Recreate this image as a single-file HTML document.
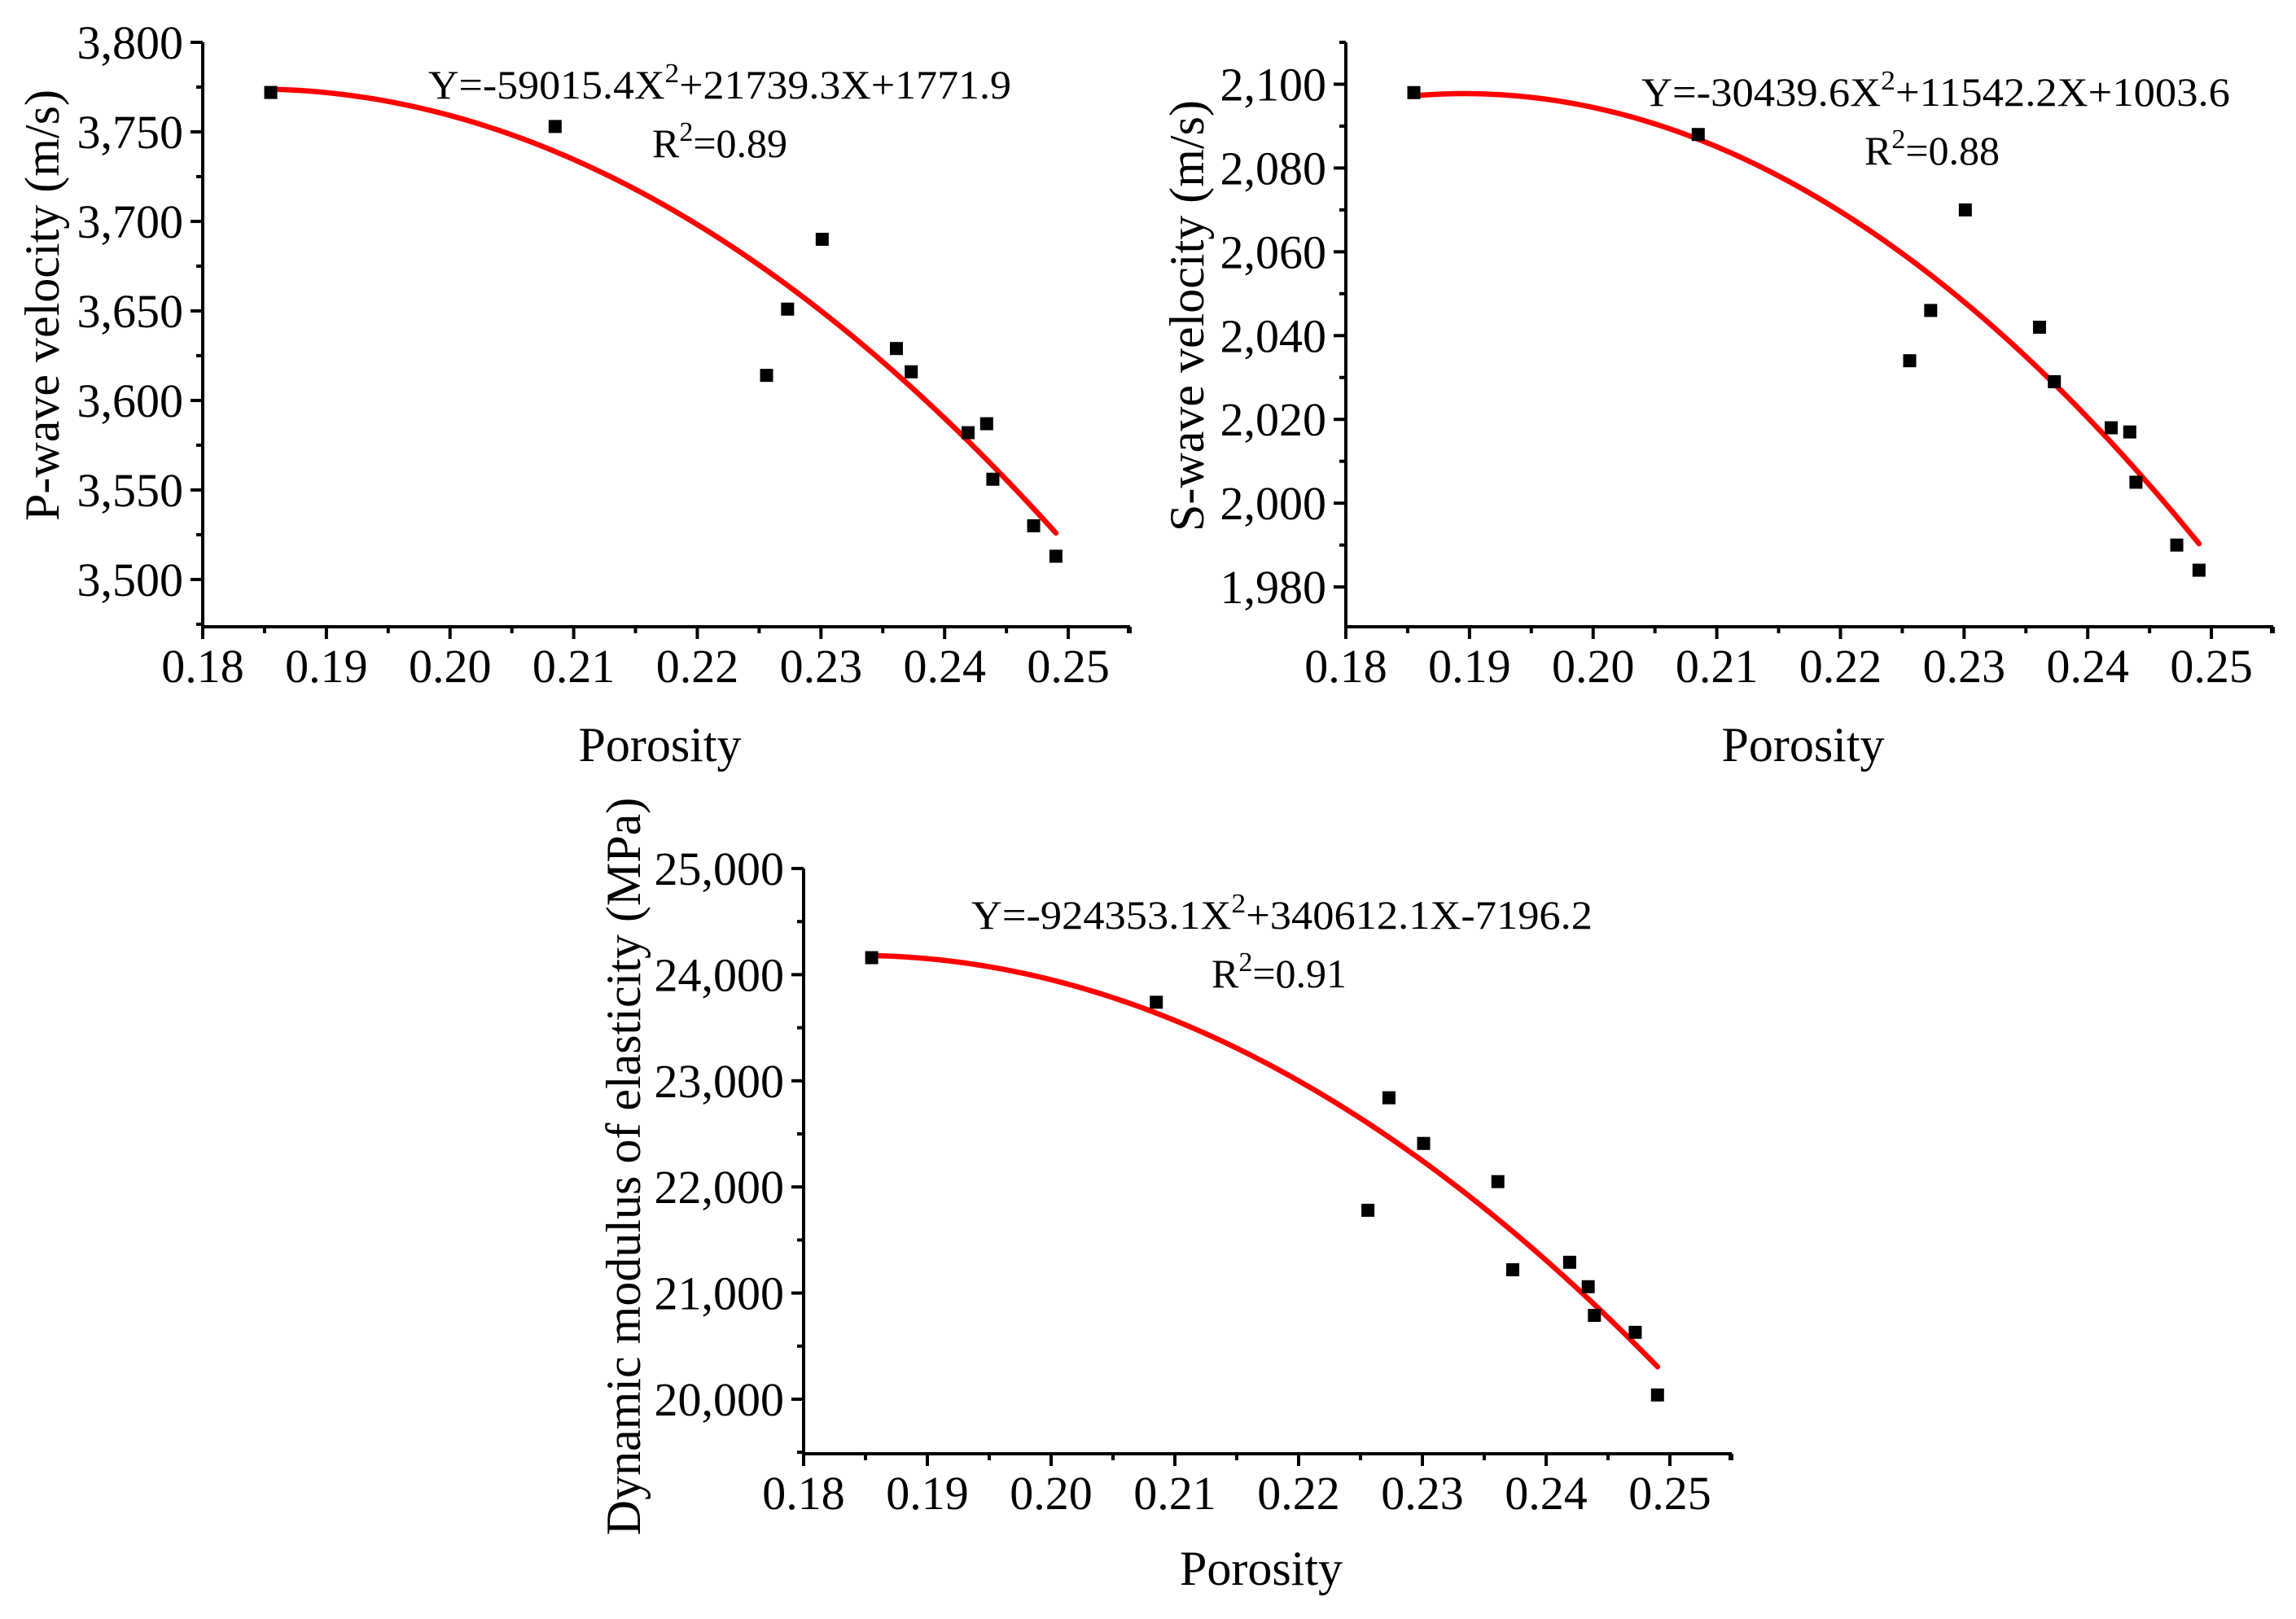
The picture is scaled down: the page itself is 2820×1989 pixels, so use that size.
<!DOCTYPE html>
<html><head><meta charset="utf-8"><style>
html,body{margin:0;padding:0;background:#fff;}
svg{display:block;font-family:"Liberation Serif","Times New Roman",serif;}
svg text{font-family:"Liberation Serif","Times New Roman",serif;}
</style></head><body>
<svg id="fig" width="2820" height="1989" viewBox="0 0 2820 1989" xmlns="http://www.w3.org/2000/svg"></svg>
<script>
const porosity = [0.1855,0.2085,0.2256,0.2273,0.2301,0.2361,0.2373,0.2419,0.2434,0.2439,0.2472,0.2490];
const pWave = [3772,3753,3614,3651,3690,3629,3616,3582,3587,3556,3530,3513];
const sWave = [2098,2088,2034,2046,2070,2042,2029,2018,2017,2005,1990,1984];
const modulus = [24160,23740,21780,22840,22410,22050,21220,21290,21060,20790,20630,20040];
const xTicks = [0.18,0.19,0.20,0.21,0.22,0.23,0.24,0.25];
const xTickLabels = ["0.18","0.19","0.20","0.21","0.22","0.23","0.24","0.25"];
const pTicks = [3500,3550,3600,3650,3700,3750,3800];
const pTickLabels = ["3,500","3,550","3,600","3,650","3,700","3,750","3,800"];
const sTicks = [1980,2000,2020,2040,2060,2080,2100];
const sTickLabels = ["1,980","2,000","2,020","2,040","2,060","2,080","2,100"];
const mTicks = [20000,21000,22000,23000,24000,25000];
const mTickLabels = ["20,000","21,000","22,000","23,000","24,000","25,000"];
const pCoef = [-59015.4,21739.3,1771.9];
const sCoef = [-30439.6,11542.2,1003.6];
const mCoef = [-924353.1,340612.1,-7196.2];

const NS="http://www.w3.org/2000/svg";
const svg=document.getElementById('fig');
const FF='"Liberation Serif","Times New Roman",serif';
function mk(tag,attrs,parent){const e=document.createElementNS(NS,tag);for(const k in attrs)e.setAttribute(k,attrs[k]);if(tag==='text')e.setAttribute('font-family',FF);(parent||svg).appendChild(e);return e;}

function panel(o){
  const g=mk('g',{});
  
  
  const X=v=>o.x0+(v-o.xmin)/(o.xmax-o.xmin)*(o.x1-o.x0);
  const Y=v=>o.y1-(v-o.ymin)/(o.ymax-o.ymin)*(o.y1-o.y0);
  const ya=mk('line',{x1:o.x0,y1:o.y0,x2:o.x0,y2:o.y1+2,stroke:'#000','stroke-width':4},g);
  
  
  const xa=mk('line',{x1:o.x0-2,y1:o.y1,x2:o.x1,y2:o.y1,stroke:'#000','stroke-width':4},g);
  
  
  xTicks.forEach((t,i)=>{
    const x=X(t);
    mk('line',{x1:x,y1:o.y1,x2:x,y2:o.y1+15,stroke:'#000','stroke-width':4},g);
    const tx=mk('text',{x:x,y:o.y1+68,'font-size':58,'text-anchor':'middle'},g);
    tx.textContent=xTickLabels[i];
    
    
    const xm=X(t+0.005);
    if(t+0.005<=o.xmax+1e-9) mk('line',{x1:xm,y1:o.y1,x2:xm,y2:o.y1+8,stroke:'#000','stroke-width':4},g);
  });
  mk('line',{x1:o.x1-2,y1:o.y1,x2:o.x1-2,y2:o.y1+8,stroke:'#000','stroke-width':4},g);
  o.yt.forEach((t,i)=>{
    const y=Y(t);
    mk('line',{x1:o.x0-15,y1:y,x2:o.x0,y2:y,stroke:'#000','stroke-width':4},g);
    const ty=mk('text',{x:o.x0-24,y:y+20,'font-size':58,'text-anchor':'end'},g);
    ty.textContent=o.ytl[i];
    
    
    const step=o.yt[1]-o.yt[0];
    [t-step/2,t+step/2].forEach(m=>{
      if(i>0&&m<t)return;
      if(m>=o.ymin&&m<=o.ymax){const ym=Y(m);mk('line',{x1:o.x0-8,y1:ym,x2:o.x0,y2:ym,stroke:'#000','stroke-width':4},g);}
    });
  });
  const xt=mk('text',{x:(o.x0+o.x1)/2-8,y:o.xty,'font-size':60,'text-anchor':'middle'},g);
  xt.textContent='Porosity';
  
  
  const yt=mk('text',{x:0,y:0,'font-size':60,'text-anchor':'middle',transform:`translate(${o.ytx},${o.yty}) rotate(-90)`},g);
  yt.textContent=o.ytitle;
  
  
  let d='';
  const xs=porosity[0], xe=porosity[porosity.length-1];
  for(let k=0;k<=120;k++){
    const xv=xs+(xe-xs)*k/120;
    const yv=o.c[0]*xv*xv+o.c[1]*xv+o.c[2];
    d+=(k?'L':'M')+X(xv).toFixed(2)+' '+Y(yv).toFixed(2);
  }
  const fit=mk('path',{d:d,fill:'none',stroke:'#ff0000','stroke-width':6.5,'stroke-linecap':'round'},g);
  
  
  porosity.forEach((p,i)=>{
    const r=mk('rect',{x:X(p)-8,y:Y(o.vals[i])-8,width:16,height:16,fill:'#000'},g);
    
    
  });
  const eq=mk('text',{x:o.ex,y:o.ey,'font-size':50,textLength:o.ew,lengthAdjust:'spacingAndGlyphs'},g);
  
  
  eq.innerHTML=o.eq1+'<tspan dy="-20" font-size="34">2</tspan><tspan dy="20">'+o.eq2+'</tspan>';
  const r2=mk('text',{x:o.rx,y:o.ry,'font-size':50},g);
  
  
  r2.innerHTML='R<tspan dy="-20" font-size="34">2</tspan><tspan dy="20">='+o.r2+'</tspan>';
}

panel({name:'p-wave-panel',x0:249,x1:1388,y0:52,y1:770,xmin:0.18,xmax:0.255,ymin:3473.6,ymax:3800,
  yt:pTicks,ytl:pTickLabels,vals:pWave,c:pCoef,ytitle:'P-wave velocity (m/s)',ytx:72,yty:375,xty:935,
  ex:526,ey:121,ew:716,eq1:'Y=-59015.4X',eq2:'+21739.3X+1771.9',rx:801,ry:193,r2:'0.89'});
panel({name:'s-wave-panel',x0:1653,x1:2792,y0:52,y1:770,xmin:0.18,xmax:0.255,ymin:1970.5,ymax:2110,
  yt:sTicks,ytl:sTickLabels,vals:sWave,c:sCoef,ytitle:'S-wave velocity (m/s)',ytx:1478,yty:388,xty:935,
  ex:2016,ey:130,ew:723,eq1:'Y=-30439.6X',eq2:'+11542.2X+1003.6',rx:2290,ry:202,r2:'0.88'});
panel({name:'modulus-panel',x0:987,x1:2127,y0:1067,y1:1786,xmin:0.18,xmax:0.255,ymin:19486,ymax:25000,
  yt:mTicks,ytl:mTickLabels,vals:modulus,c:mCoef,ytitle:'Dynamic modulus of elasticity (MPa)',ytx:786,yty:1433,xty:1947,
  ex:1193,ey:1141,ew:763,eq1:'Y=-924353.1X',eq2:'+340612.1X-7196.2',rx:1488,ry:1213,r2:'0.91'});
</script>
</body></html>
